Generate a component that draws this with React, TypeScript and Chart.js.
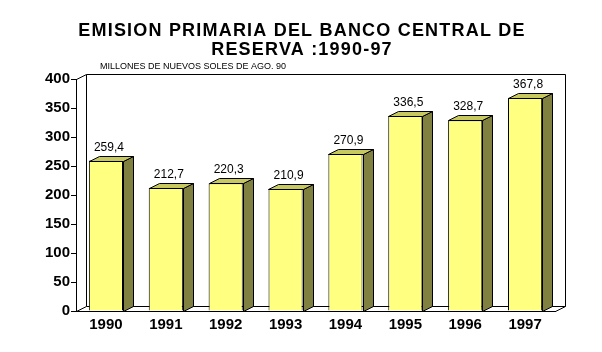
import React, { useEffect, useRef } from "react";
import { Chart, registerables } from "chart.js";
Chart.register(...registerables);

const years = ["1990", "1991", "1992", "1993", "1994", "1995", "1996", "1997"];
const emision = [259.4, 212.7, 220.3, 210.9, 270.9, 336.5, 328.7, 367.8];
const valueLabels = ["259,4", "212,7", "220,3", "210,9", "270,9", "336,5", "328,7", "367,8"];
const titleLines = ["EMISION PRIMARIA DEL BANCO CENTRAL DE", "RESERVA :1990-97"];
const subtitleText = "MILLONES DE NUEVOS SOLES DE AGO. 90";

const DX = 10;
const DY = 5;
const FONT = "'Liberation Sans', Arial, sans-serif";

const threeD = {
  id: "threeD",
  beforeDatasetsDraw(chart: any) {
    const { ctx, chartArea } = chart;
    const { left, right, top, bottom } = chartArea;
    ctx.save();
    ctx.strokeStyle = "#000";
    ctx.lineWidth = 1;
    ctx.beginPath();
    ctx.moveTo(left + DX + 0.5, bottom - DY + 0.5);
    ctx.lineTo(left + DX + 0.5, top - DY + 0.5);
    ctx.lineTo(right + DX + 0.5, top - DY + 0.5);
    ctx.lineTo(right + DX + 0.5, bottom - DY + 0.5);
    ctx.lineTo(left + DX + 0.5, bottom - DY + 0.5);
    ctx.moveTo(left + 0.5, bottom + 0.5);
    ctx.lineTo(left + DX + 0.5, bottom - DY + 0.5);
    ctx.moveTo(right + 0.5, bottom + 0.5);
    ctx.lineTo(right + DX + 0.5, bottom - DY + 0.5);
    ctx.moveTo(left + 0.5, top + 0.5);
    ctx.lineTo(left + DX + 0.5, top - DY + 0.5);
    ctx.stroke();
    ctx.restore();
  },
  afterDatasetsDraw(chart: any) {
    const { ctx } = chart;
    const meta = chart.getDatasetMeta(0);
    ctx.save();
    ctx.strokeStyle = "#000";
    ctx.lineWidth = 1;
    meta.data.forEach((bar: any, i: number) => {
      const x0 = Math.round(bar.x - bar.width / 2) + 0.5;
      const x1 = Math.round(bar.x + bar.width / 2) + 0.5;
      const yt = Math.round(bar.y) + 0.5;
      const yb = Math.round(bar.base) + 0.5;
      ctx.beginPath();
      ctx.moveTo(x1, yt);
      ctx.lineTo(x1 + DX, yt - DY);
      ctx.lineTo(x1 + DX, yb - DY);
      ctx.lineTo(x1, yb);
      ctx.closePath();
      ctx.fillStyle = "#808040";
      ctx.fill();
      ctx.stroke();
      ctx.beginPath();
      ctx.moveTo(x0, yt);
      ctx.lineTo(x0 + DX, yt - DY);
      ctx.lineTo(x1 + DX, yt - DY);
      ctx.lineTo(x1, yt);
      ctx.closePath();
      ctx.fillStyle = "#C8C860";
      ctx.fill();
      ctx.stroke();
      ctx.fillStyle = "#000";
      ctx.font = `12px ${FONT}`;
      ctx.textAlign = "center";
      ctx.textBaseline = "bottom";
      ctx.fillText(valueLabels[i], bar.x + 3, yt - DY - 3);
    });
    ctx.font = `bold 18px ${FONT}`;
    (ctx as any).letterSpacing = "1.2px";
    ctx.textAlign = "center";
    ctx.textBaseline = "middle";
    ctx.fillText(titleLines[0], 302, 31);
    ctx.fillText(titleLines[1], 302, 50);
    (ctx as any).letterSpacing = "0px";
    ctx.font = `9px ${FONT}`;
    ctx.textAlign = "left";
    ctx.fillText(subtitleText, 100, 67);
    ctx.restore();
  },
};

export default function App() {
  const ref = useRef<HTMLCanvasElement>(null);
  useEffect(() => {
    const chart = new Chart(ref.current!, {
      type: "bar",
      data: {
        labels: years,
        datasets: [
          {
            data: emision,
            backgroundColor: "#FFFF80",
            borderColor: "#000",
            borderWidth: 1,
            categoryPercentage: 1,
            barPercentage: 0.57,
          },
        ],
      },
      options: {
        animation: false,
        responsive: false,
        layout: { padding: { top: 79, right: 47, left: 0, bottom: 0 } },
        plugins: { legend: { display: false }, tooltip: { enabled: false }, title: { display: false } },
        scales: {
          x: {
            grid: { display: false },
            border: { display: true, color: "#000" },
            ticks: { color: "#000", font: { family: FONT, size: 15, weight: "bold" }, padding: -3 },
            afterFit: (s: any) => { s.height = 41; },
          },
          y: {
            min: 0,
            max: 400,
            ticks: { stepSize: 50, color: "#000", font: { family: FONT, size: 15, weight: "bold" }, padding: 1 },
            grid: { drawOnChartArea: false, drawTicks: true, tickLength: 5, color: "#000" },
            border: { display: true, color: "#000" },
            afterFit: (s: any) => { s.width = 76; },
          },
        },
      },
      plugins: [threeD],
    });
    return () => chart.destroy();
  }, []);
  return (
    <div style={{ position: "fixed", left: 0, top: 0, width: 602, height: 352, background: "#fff" }}>
      <canvas ref={ref} width={602} height={352} />
    </div>
  );
}
